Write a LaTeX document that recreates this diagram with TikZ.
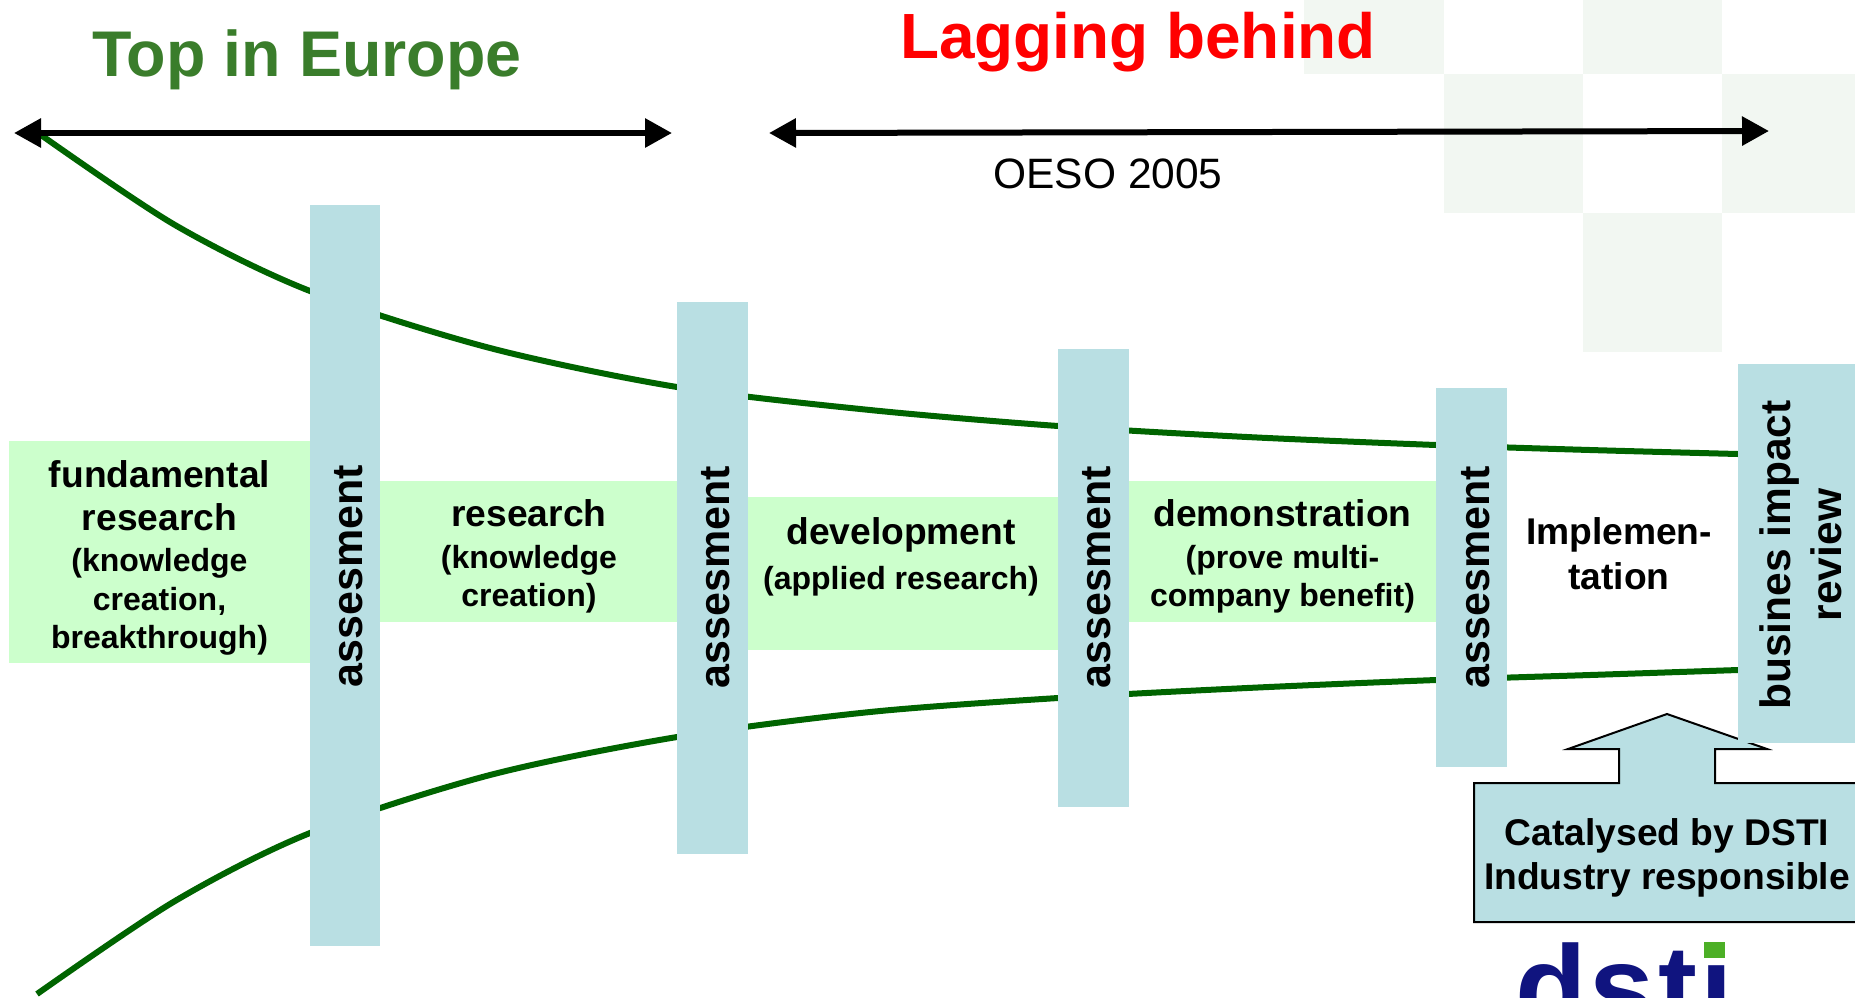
\documentclass[tikz,border=0pt]{standalone}
\usepackage{fontspec}
\setmainfont{Liberation Sans}
\usetikzlibrary{arrows.meta}
\definecolor{barblue}{HTML}{B9DFE3}
\definecolor{boxgreen}{HTML}{CCFFCC}
\definecolor{curvegreen}{HTML}{006400}
\definecolor{headgreen}{HTML}{3A7D2B}
\definecolor{checker}{HTML}{F2F7F2}
\definecolor{logoblue}{HTML}{10147F}
\definecolor{logogreen}{HTML}{4CAF26}
\newcommand{\bigt}{\fontsize{37.2}{38.5}\selectfont}
\newcommand{\smallt}{\fontsize{32}{38.5}\selectfont}
\tikzset{
  x=1pt,y=-1pt,
  bgsquare/.style={fill=checker,draw=none},
  curveline/.style={draw=curvegreen,line width=6pt,line join=round},
  spanarrow/.style={line width=6pt,{Triangle[length=27pt,width=28pt]}-{Triangle[length=27pt,width=28pt]}},
  stage/.style={fill=boxgreen,draw=none},
  gatebar/.style={fill=barblue,draw=none},
  stagetext/.style={inner sep=0pt,align=center,text=black,font=\fontsize{32}{38.5}\selectfont\bfseries},
  gatetext/.style={inner sep=0pt,rotate=90,font=\fontsize{43}{50}\selectfont\bfseries},
  headline/.style={inner sep=0pt,font=\fontsize{64.6}{70}\selectfont\bfseries},
}
\begin{document}
\begin{tikzpicture}
\useasboundingbox (0,0) rectangle (1855,997);
\clip (0,0) rectangle (1855,997);
% checker background
\fill[bgsquare] (1304,0) rectangle (1444,74);
\fill[bgsquare] (1583,0) rectangle (1722,74);
\fill[bgsquare] (1444,74) rectangle (1583,213);
\fill[bgsquare] (1722,74) rectangle (1855,213);
\fill[bgsquare] (1583,213) rectangle (1722,352);
% headings
\node[headline,text=headgreen] (top) at (307,60) {Top in Europe};
\node[headline,text=red,font=\fontsize{63.9}{70}\selectfont\bfseries] (lag) at (1138,42) {Lagging behind};
\node[inner sep=0pt,font=\fontsize{42.5}{50}\selectfont] (oeso) at (1108,174) {OESO 2005};
% curves
\draw[curveline] plot[smooth] coordinates {(41,135) (175,225) (310,291) (490,348) (677,387) (870,410) (1058,426) (1247,437) (1436,445) (1590,450) (1738,454)};
\draw[curveline] plot[smooth] coordinates {(37,994) (175,901) (310,833) (490,775) (677,737) (870,712) (1058,698) (1247,688) (1436,680) (1590,675) (1738,670)};
% span arrows
\coordinate (la) at (14,133);
\coordinate (lb) at (672,133);
\coordinate (ra) at (769,133);
\coordinate (rb) at (1769,131);
\draw[spanarrow] (la) -- (lb);
\draw[spanarrow] (ra) -- (rb);
% stage boxes
\node[stage,anchor=north west,minimum width=301pt,minimum height=222pt,inner sep=0pt] (s1) at (9,441) {};
\node[stage,anchor=north west,minimum width=297pt,minimum height=141pt,inner sep=0pt] (s2) at (380,481) {};
\node[stage,anchor=north west,minimum width=310pt,minimum height=153pt,inner sep=0pt] (s3) at (748,497) {};
\node[stage,anchor=north west,minimum width=307pt,minimum height=141pt,inner sep=0pt] (s4) at (1129,481) {};
\node[stagetext] (t1) at (159.5,558) {\bigt fundamental\\[4pt]\bigt research\\[3pt]\smallt (knowledge\\\smallt creation,\\\smallt breakthrough)};
\node[stagetext] (t2) at (529,556.5) {\bigt research\\[3pt]\smallt (knowledge\\\smallt creation)};
\node[stagetext] (t3) at (901,557) {\bigt development\\[7pt]\smallt (applied research)};
\node[stagetext] (t4) at (1282.5,556.5) {\bigt demonstration\\[3pt]\smallt (prove multi-\\\smallt company benefit)};
\node[stagetext] (t5) at (1619,553.5) {\bigt Implemen-\\[6pt]\bigt tation};
% callout
\draw[fill=barblue,draw=black,line width=2pt,line join=miter] (1474,783) -- (1619,783) -- (1619,749) -- (1568,749) -- (1667,714) -- (1767,749) -- (1715,749) -- (1715,783) -- (1870,783) -- (1870,922) -- (1474,922) -- cycle;
\node[stagetext,font=\fontsize{37.2}{44}\selectfont\bfseries] (cat) at (1667,858) {Catalysed by DSTI\\Industry responsible};
% assessment bars
\node[gatebar,anchor=north west,minimum width=70pt,minimum height=741pt,inner sep=0pt] (b1) at (310,205) {};
\node[gatebar,anchor=north west,minimum width=70.5pt,minimum height=552pt,inner sep=0pt] (b2) at (677,302) {};
\node[gatebar,anchor=north west,minimum width=70.5pt,minimum height=458pt,inner sep=0pt] (b3) at (1058,349) {};
\node[gatebar,anchor=north west,minimum width=71pt,minimum height=379pt,inner sep=0pt] (b4) at (1436,388) {};
\node[gatebar,anchor=north west,minimum width=125pt,minimum height=379pt,inner sep=0pt] (b5) at (1738,364) {};
\node[gatetext] (g1) at (349,576) {assesment};
\node[gatetext] (g2) at (716,577) {assesment};
\node[gatetext] (g3) at (1097,577) {assesment};
\node[gatetext] (g4) at (1475.5,577) {assesment};
\node[inner sep=0pt,rotate=90,align=center,font=\fontsize{42.5}{51}\selectfont\bfseries] (g5) at (1801,555) {busines impact\\review};
% logo
\node[inner sep=0pt,anchor=base west,text=logoblue,font=\fontsize{117}{120}\selectfont\bfseries\addfontfeature{LetterSpace=2.8}] (logo) at (1515,1027) {dsti};
\fill[logogreen] (1704,942) rectangle (1725,958);
\end{tikzpicture}
\end{document}
